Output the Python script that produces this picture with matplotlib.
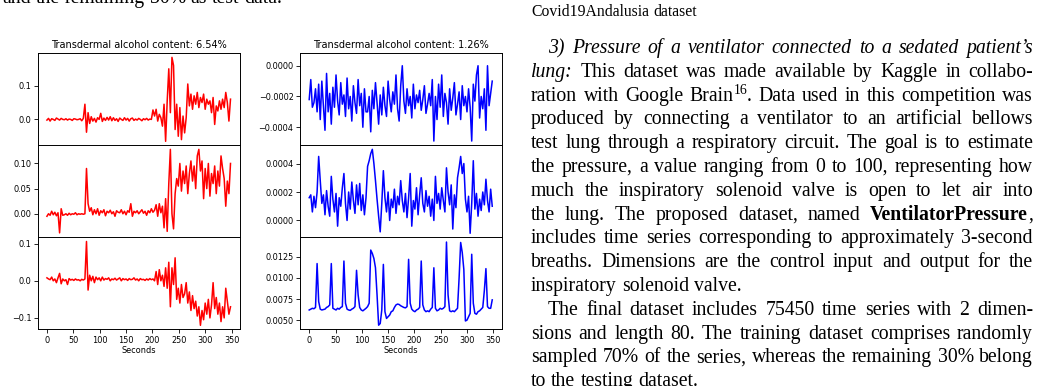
import numpy as np
import matplotlib
matplotlib.use("Agg")
import matplotlib.pyplot as plt

# ---------------- data ----------------
seconds = np.arange(0, 349, 3)          # sampling grid, 117 points
xticks = [0, 50, 100, 150, 200, 250, 300, 350]

# red series, units of 1e-3
red_top_milli = [-2, 3, -5, 2, 0, -3, 4, 1, -2, 3, 0, -1, 2, -2, 1, 0, -3, 2, 1, -1, 0, 2, -4, 3,
                 45, -38, 20,
                 -12, 8, -5, 3, -8, 5, 0, 18, -6, 4, -3, 6, -2, 8, -4,
                 5, -3, 2, -6, 4, 0, -3, 5, -2, 3, -5, 2, 4, -3, 1, -2, 3, 0, -4, 2, -1, 3, -2, 1, 0,
                 28, 10, 30, -5, 15, 5, -20, 45, -65, 55, 150, 20, 184, 160, -30, 45, -50, 35, -60, 10,
                 -40, 5, 105, 40, 75, 30, 70, 45, 80, 35, 65, 50, 75, 30, 60, 45, 55, 20, 65, -15,
                 40, 25, 55, 30, 60, 35, 80, 50, -5, 60]
red_mid_milli = [-5, 0, -3, 5, -2, 3, -4, 2,
                 -38, 10,
                 -3, -2, 0, -3, 1, -2, 0, -1, 2, -2, 0, -1, 0, -1, 0,
                 90, 20,
                 5, 12, -2, 8, 0, 10, -3, 6, 2, 8, -4, 5, 2, 7, 0, 4, -5, 6, 3, 2, 8, 0, 5, -2, 6,
                 3, 20, -5, 5, 2, 6, 0, 4, 8, 1, 5, -3, 6, 2, 10, 3, 7,
                 18, -5, 20, 2, 15, -28, 30, -35, 60, 128, 0, -30, 40, 70, 55, 100, 45, 85, 60, 95,
                 40, 80, 105, 65, 95, 50, 115, 128, 85, 105, 30, 90, 50, 100, 35, 80, 60, 95, 40, 85,
                 55, 115, 90, 70, 15, 65, 40, 100]
red_bot_milli = [8, 5, 3, 10, 0, 5, -5, 8, 20, -8, 5, 0, 3, -10, 6, 2, 4, 1, 5, 2, 3, 0, 4, 2, 5,
                 106, -25,
                 15, 0, 12, -5, 10, 3, 8, 0, 10, 2, 6, 4, 8, 0, 5, 3, 7, 2, 5, 8, 0, 6, 3, 5, 1,
                 6, 3, 4, 8, 2, 5, 0, 6, 3, 4, 1, 5, 2, 6, 3, 5, 0,
                 25, -10, 30, 0, 15, -15, 35, -20, 50, -70, 35, -10, 62, -50, -20, -60, -10, -45, -35, -5,
                 -60, -30, -80, -40, -75, -55, -95, -70, -120, -80, -105, -60, -90, -50, -100, -65, -5, -75, -45, -90,
                 -60, -110, -70, -100, -20, -55, -90, -70]

# blue series
blue_top_micro = [-220, -90, -270, -240, -150, -300, -120, -350, -100, -260,
                  -420, -50, -300, -180, -380, -140, -270, -60, -230, -320,
                  -110, -250, -190, -330, -80, -280, -200, -360, -130, -240,
                  -310, -90, -260, -180, -400, -150, -300, -300, -200, -430,
                  -160, -280, -110, -240, -380, -190, -320, -140, -260, -330,
                  -100, -220, -300, -170, -250, -60, -280, -360, -130, 0,
                  -230, -310, -150, -260, -200, -340, -120, -280, -190, -240,
                  -160, -290, -220, -130, -310, -250, -180, -260, -90, -490,
                  -200, -350, -120, -270, -60, -330, -180, -240, -380, -150,
                  -290, -210, -110, -320, -250, -170, -350, -130, -260, -200,
                  -300, -150, -270, -490, -120, -230, -60, 0, -340, -200,
                  -280, -150, -420, 0, -260, -180, -100]
blue_mid_micro = [160, 180, 60, 170, 90, 200, 450, 280, 120, 180,
                  40, 210, 100, 30, 310, 150, 60, 190, -40, 160,
                  100, 230, 330, 120, 0, 200, 80, 270, 140, 50,
                  250, 110, 260, 70, 180, 40, 160, 380, 420, 470,
                  500, 400, 280, 150, 30, -80, 120, 350, 160, 60,
                  200, 0, 150, 90, 220, 50, 170, 110, 280, 140,
                  60, 190, 20, 160, 330, -40, 140, 80, 230, 40,
                  180, 300, 120, 60, 210, 100, 170, 30, 150, 0,
                  310, 120, 190, 80, 230, 140, 60, 370, 200, 110,
                  250, -60, 180, 90, 300, 370, 450, 330, 400, 150,
                  60, 170, -90, 120, 420, 80, 190, 30, 150, 70,
                  200, 110, 290, 140, 60, 220, 100]
blue_bot_e5 = [620, 630, 640, 635, 650, 1170, 720, 630, 620, 625,
               630, 650, 660, 680, 1170, 640, 630, 620, 640, 630,
               650, 660, 1200, 700, 630, 620, 615, 630, 640, 660,
               1090, 800, 650, 620, 610, 625, 640, 660, 700, 1330,
               1290, 1230, 1120, 800, 440, 460, 620, 1160, 600, 520,
               540, 560, 600, 610, 650, 680, 690, 685, 670, 660,
               650, 645, 660, 1220, 700, 630, 610, 600, 620, 630,
               650, 1200, 680, 620, 600, 610, 600, 630, 650, 1120,
               640, 610, 620, 640, 630, 640, 660, 1425, 800, 610,
               600, 610, 600, 620, 640, 1000, 1420, 1300, 1100, 490,
               500, 540, 580, 1280, 700, 580, 570, 600, 610, 630,
               650, 850, 1110, 660, 640, 640, 740]

titles = ["Transdermal alcohol content: 6.54%", "Transdermal alcohol content: 1.26%"]

red_series = [np.array(red_top_milli) * 1e-3, np.array(red_mid_milli) * 1e-3, np.array(red_bot_milli) * 1e-3]
blue_series = [np.array(blue_top_micro) * 1e-6, np.array(blue_mid_micro) * 1e-6, np.array(blue_bot_e5) * 1e-5]

red_yticks = [([0.0, 0.1], ["0.0", "0.1"]),
              ([0.0, 0.05, 0.10], ["0.00", "0.05", "0.10"]),
              ([-0.1, 0.0, 0.1], ["\u22120.1", "0.0", "0.1"])]
blue_yticks = [([-0.0004, -0.0002, 0.0], ["\u22120.0004", "\u22120.0002", "0.0000"]),
               ([0.0, 0.0002, 0.0004], ["0.0000", "0.0002", "0.0004"]),
               ([0.005, 0.0075, 0.01, 0.0125], ["0.0050", "0.0075", "0.0100", "0.0125"])]
red_ylims = [(-0.0765, 0.196), (-0.047, 0.1363), (-0.131, 0.117)]
blue_ylims = [(-0.000517, 0.0000809), (-0.000119, 0.000529), (0.0039, 0.0148)]

# ---------------- figure ----------------
W, H = 1040, 386
fig = plt.figure(figsize=(W / 100, H / 100), dpi=100)
plt.rcParams["font.size"] = 5.8


def fx(x):
    return x / W


def fy(y):
    return 1 - y / H


rows = [(53.3, 145.2), (145.2, 237.4), (237.4, 329.4)]
cols = [(37.7, 240.0), (300.0, 501.7)]
groups = [(red_series, red_yticks, red_ylims, "#ff0000"),
          (blue_series, blue_yticks, blue_ylims, "#0000ff")]

for c, (xl, xr) in enumerate(cols):
    series, yt, yl, color = groups[c]
    for r, (ytop, ybot) in enumerate(rows):
        ax = fig.add_axes([fx(xl), fy(ybot), (xr - xl) / W, (ybot - ytop) / H])
        ax.plot(seconds, series[r], color=color, lw=1.1)
        ax.set_xlim(-17.5, 366)
        ax.set_ylim(*yl[r])
        ax.set_yticks(yt[r][0], yt[r][1])
        ax.set_xticks(xticks)
        for s in ax.spines.values():
            s.set_linewidth(0.7)
        ax.tick_params(direction="out", length=2.8, width=0.6, pad=1.8, labelsize=5.9, colors="black")
        if r < 2:
            ax.tick_params(axis="x", bottom=False, labelbottom=False)
        else:
            ax.set_xlabel("Seconds", fontsize=5.9, labelpad=1.2)
        if r == 0:
            ax.set_title(titles[c], fontsize=7, pad=3.8)

# ---------------- surrounding paper text ----------------
SERIF = "Liberation Serif"
BODY = 14.2
renderer = fig.canvas.get_renderer()


def make(txt, style, size):
    kw = dict(family=SERIF, fontsize=size, color="black", va="baseline", ha="left")
    if style == "i":
        kw["style"] = "italic"
    if style == "b":
        kw["weight"] = "bold"
    if style == "sup":
        kw["fontsize"] = size * 0.7
    t = fig.text(0, 0, txt, **kw)
    return t, t.get_window_extent(renderer).width


def split_words(segs):
    words = [[]]
    for text, style in segs:
        parts = text.split(" ")
        for k, part in enumerate(parts):
            if k > 0:
                words.append([])
            if part:
                words[-1].append((part, style))
    return [w for w in words if w]


def layout(segs, y, x0, x1, justify, size=BODY):
    words = split_words(segs)
    items = []
    for word in words:
        items.append([make(t, s, size) + (s,) for t, s in word])
    widths = [sum(w for _, w, _ in it) for it in items]
    if justify and len(items) > 1:
        gap = (x1 - x0 - sum(widths)) / (len(items) - 1)
    else:
        gap = 0.25 * size * 100 / 72
    x = x0
    for it, wsum in zip(items, widths):
        xx = x
        for t, w, s in it:
            yy = y - (0.36 * size * 100 / 72 if s == "sup" else 0)
            t.set_position((fx(xx), fy(yy)))
            xx += w
        x += wsum + gap


# left column (cut-off last line above the figure)
layout([("and the remaining 30% as test data.", "n")], 3.0, 2, 480, False)

# right column caption remnant
layout([("Covid19Andalusia dataset", "n")], 15.5, 531, 1033, False, size=BODY * 0.8)

X0, X1, INDENT = 531, 1033, 17
lines = [
    ([("3) Pressure of a ventilator connected to a sedated patient\u2019s", "i")], True, True),
    ([("lung:", "i"), (" This dataset was made available by Kaggle in collabo-", "n")], False, True),
    ([("ration with Google Brain", "n"), ("16", "sup"), (". Data used in this competition was", "n")], False, True),
    ([("produced by connecting a ventilator to an artificial bellows", "n")], False, True),
    ([("test lung through a respiratory circuit. The goal is to estimate", "n")], False, True),
    ([("the pressure, a value ranging from 0 to 100, representing how", "n")], False, True),
    ([("much the inspiratory solenoid valve is open to let air into", "n")], False, True),
    ([("the lung. The proposed dataset, named ", "n"), ("VentilatorPressure", "b"), (",", "n")], False, True),
    ([("includes time series corresponding to approximately 3-second", "n")], False, True),
    ([("breaths. Dimensions are the control input and output for the", "n")], False, True),
    ([("inspiratory solenoid valve.", "n")], False, False),
    ([("The final dataset includes 75450 time series with 2 dimen-", "n")], True, True),
    ([("sions and length 80. The training dataset comprises randomly", "n")], False, True),
    ([("sampled 70% of the series, whereas the remaining 30% belong", "n")], False, True),
    ([("to the testing dataset.", "n")], False, False),
]
LINE0, STEP = 53.0, 23.8
for k, (segs, indent, just) in enumerate(lines):
    layout(segs, LINE0 + STEP * k, X0 + (INDENT if indent else 0), X1, just)

fig.savefig("out.png", dpi=100)
